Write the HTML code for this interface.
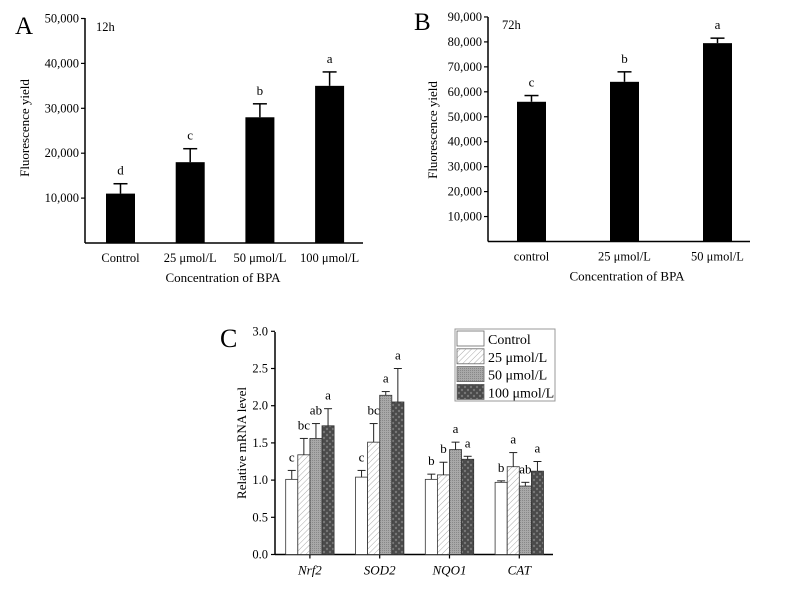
<!DOCTYPE html>
<html><head><meta charset="utf-8"><style>
body{margin:0;background:#fff;}
svg{display:block;font-family:"Liberation Serif",serif;}
</style></head><body>
<svg id="s" width="787" height="593" viewBox="0 0 787 593">
<defs>
<pattern id="hatch" width="4" height="4" patternUnits="userSpaceOnUse" patternTransform="rotate(45)">
<rect width="4" height="4" fill="#fff"/><line x1="0" y1="0" x2="0" y2="4" stroke="#aaa" stroke-width="1"/></pattern>
<pattern id="dots" width="2" height="2" patternUnits="userSpaceOnUse">
<rect width="2" height="2" fill="#a8a8a8"/><rect width="1" height="1" fill="#888"/></pattern>
<pattern id="check" width="6" height="6" patternUnits="userSpaceOnUse">
<rect width="6" height="6" fill="#4a4a4a"/><circle cx="3" cy="3" r="1.2" fill="#777"/><circle cx="0" cy="0" r="1.2" fill="#777"/><circle cx="6" cy="0" r="1.2" fill="#777"/><circle cx="0" cy="6" r="1.2" fill="#777"/><circle cx="6" cy="6" r="1.2" fill="#777"/></pattern>
</defs>
<g id="A"></g>
<g id="B"></g>
<g id="C"></g>
</svg>
<script>
// Panel A data
const catsA = ["Control","25 μmol/L","50 μmol/L","100 μmol/L"];
const valsA = [11000,18000,28000,35000];
const errA = [2200,3000,3000,3100];
const letA = ["d","c","b","a"];
const ticksA = [10000,20000,30000,40000,50000];
// Panel B data
const catsB = ["control","25 μmol/L","50 μmol/L"];
const valsB = [56000,64000,79500];
const errB = [2500,4000,2000];
const letB = ["c","b","a"];
const ticksB = [10000,20000,30000,40000,50000,60000,70000,80000,90000];
// Panel C data
const genes = ["Nrf2","SOD2","NQO1","CAT"];
const seriesNames = ["Control","25 μmol/L","50 μmol/L","100 μmol/L"];
const vControl = [1.01,1.04,1.01,0.97];
const v25 = [1.34,1.51,1.07,1.18];
const v50 = [1.56,2.14,1.41,0.92];
const v100 = [1.73,2.05,1.28,1.12];
const eControl = [0.12,0.09,0.07,0.02];
const e25 = [0.22,0.25,0.17,0.19];
const e50 = [0.20,0.05,0.10,0.05];
const e100 = [0.23,0.45,0.04,0.13];
const lControl = ["c","c","b","b"];
const l25 = ["bc","bc","b","a"];
const l50 = ["ab","a","a","ab"];
const l100 = ["a","a","a","a"];
const ticksC = [0.0,0.5,1.0,1.5,2.0,2.5,3.0];

const NS="http://www.w3.org/2000/svg";
function mk(parent,tag,attrs,text){const e=document.createElementNS(NS,tag);for(const k in attrs)e.setAttribute(k,attrs[k]);if(text!==undefined)e.textContent=text;parent.appendChild(e);return e;}
const fmt=v=>v.toLocaleString("en-US");

function barPanel(g,o){
  const y=v=>o.y0-(v/o.step)*o.px;
  const x=i=>o.x1+o.gap*i;
  mk(g,"line",{x1:o.ax,y1:o.top,x2:o.ax,y2:o.y0,stroke:"#000","stroke-width":1.5});
  mk(g,"line",{x1:o.ax,y1:o.y0,x2:o.axEnd,y2:o.y0,stroke:"#000","stroke-width":1.5});
  o.ticks.forEach(t=>{
    mk(g,"line",{x1:o.ax-4,y1:y(t),x2:o.ax,y2:y(t),stroke:"#000","stroke-width":1.2});
    const tl=mk(g,"text",{x:o.ax-6,y:y(t)+4,"text-anchor":"end","font-size":12.5},fmt(t));
    
    
  });
  o.cats.forEach((c,i)=>{
    const cx=x(i), v=o.vals[i], et=v+o.err[i];
    const r=mk(g,"rect",{x:cx-o.bw/2,y:y(v),width:o.bw,height:o.y0-y(v),fill:"#000"});
    
    
    mk(g,"line",{x1:cx,y1:y(v),x2:cx,y2:y(et),stroke:"#000","stroke-width":1.5});
    mk(g,"line",{x1:cx-7,y1:y(et),x2:cx+7,y2:y(et),stroke:"#000","stroke-width":1.5});
    const l=mk(g,"text",{x:cx,y:y(et)-9,"text-anchor":"middle","font-size":13},o.lets[i]);
    
    
    const xl=mk(g,"text",{x:cx,y:o.y0+19,"text-anchor":"middle","font-size":12.5},c);
    
    
  });
  const xt=mk(g,"text",{x:o.xtx,y:o.y0+39,"text-anchor":"middle","font-size":13},"Concentration of BPA");
  
  
  const yt=mk(g,"text",{x:0,y:0,"text-anchor":"middle","font-size":13,transform:`translate(${o.ytx},${o.yty}) rotate(-90)`},"Fluorescence yield");
  
  
  const pl=mk(g,"text",{x:o.plx,y:o.ply,"font-size":25},o.label);
  
  
  const tl=mk(g,"text",{x:o.tx,y:o.ty,"font-size":12.5},o.time);
  
  
}
barPanel(document.getElementById("A"),{cats:catsA,vals:valsA,err:errA,lets:letA,ticks:ticksA,
  ax:85,axEnd:363,y0:243,top:18,step:10000,px:44.9,x1:120.5,gap:69.7,bw:29,
  xtx:223,ytx:29,yty:128,label:"A",plx:15,ply:34,time:"12h",tx:96,ty:31});
barPanel(document.getElementById("B"),{cats:catsB,vals:valsB,err:errB,lets:letB,ticks:ticksB,
  ax:488,axEnd:750,y0:241.5,top:17,step:10000,px:24.95,x1:531.5,gap:93,bw:29,
  xtx:627,ytx:437,yty:130,label:"B",plx:414,ply:30,time:"72h",tx:502,ty:29});

// Panel C
(function(){
  const g=document.getElementById("C");
  const y0=554.5, px=37.2/0.5, ax=275;
  const y=v=>y0-v*px;
  const gx=i=>285.7+69.8*i;
  const bw=12.1;
  const vals=[vControl,v25,v50,v100], errs=[eControl,e25,e50,e100], lets=[lControl,l25,l50,l100];
  const fills=["#fff","url(#hatch)","url(#dots)","url(#check)"];
  mk(g,"line",{x1:ax,y1:332,x2:ax,y2:y0,stroke:"#000","stroke-width":1.5});
  mk(g,"line",{x1:ax,y1:y0,x2:553,y2:y0,stroke:"#000","stroke-width":1.5});
  ticksC.forEach(t=>{
    mk(g,"line",{x1:ax-4,y1:y(t),x2:ax,y2:y(t),stroke:"#000","stroke-width":1.2});
    const tl=mk(g,"text",{x:ax-7,y:y(t)+4,"text-anchor":"end","font-size":12.5},t.toFixed(1));
    
    
  });
  genes.forEach((gn,i)=>{
    const cx=gx(i)+bw*2;
    mk(g,"line",{x1:cx,y1:y0,x2:cx,y2:y0+4,stroke:"#000","stroke-width":1.2});
    const xl=mk(g,"text",{x:cx,y:y0+20,"text-anchor":"middle","font-size":13,"font-style":"italic"},gn);
    
    
    for(let s=0;s<4;s++){
      const v=vals[s][i], e=v+errs[s][i], bx=gx(i)+bw*s, bc=bx+bw/2;
      const r=mk(g,"rect",{x:bx,y:y(v),width:bw,height:y0-y(v),fill:fills[s],stroke:"#333","stroke-width":0.8});
      
      
      mk(g,"line",{x1:bc,y1:y(v),x2:bc,y2:y(e),stroke:"#222","stroke-width":1});
      mk(g,"line",{x1:bc-4,y1:y(e),x2:bc+4,y2:y(e),stroke:"#222","stroke-width":1});
      const l=mk(g,"text",{x:bc,y:y(e)-9,"text-anchor":"middle","font-size":13},lets[s][i]);
      
      
    }
  });
  const yt=mk(g,"text",{x:0,y:0,"text-anchor":"middle","font-size":13,transform:"translate(246,443) rotate(-90)"},"Relative mRNA level");
  
  
  const pl=mk(g,"text",{x:220,y:347,"font-size":26},"C");
  
  
  const lg=mk(g,"g",{});
  
  
  mk(lg,"rect",{x:455,y:329,width:100,height:72,fill:"#fff",stroke:"#999","stroke-width":1});
  seriesNames.forEach((n,s)=>{
    const ry=331+s*17.8;
    const sw=mk(lg,"rect",{x:457,y:ry,width:27,height:15,fill:fills[s],stroke:"#666","stroke-width":0.8});
    
    
    const t=mk(lg,"text",{x:488,y:ry+13,"font-size":14},n);
    
    
  });
})();
</script>
</body></html>
